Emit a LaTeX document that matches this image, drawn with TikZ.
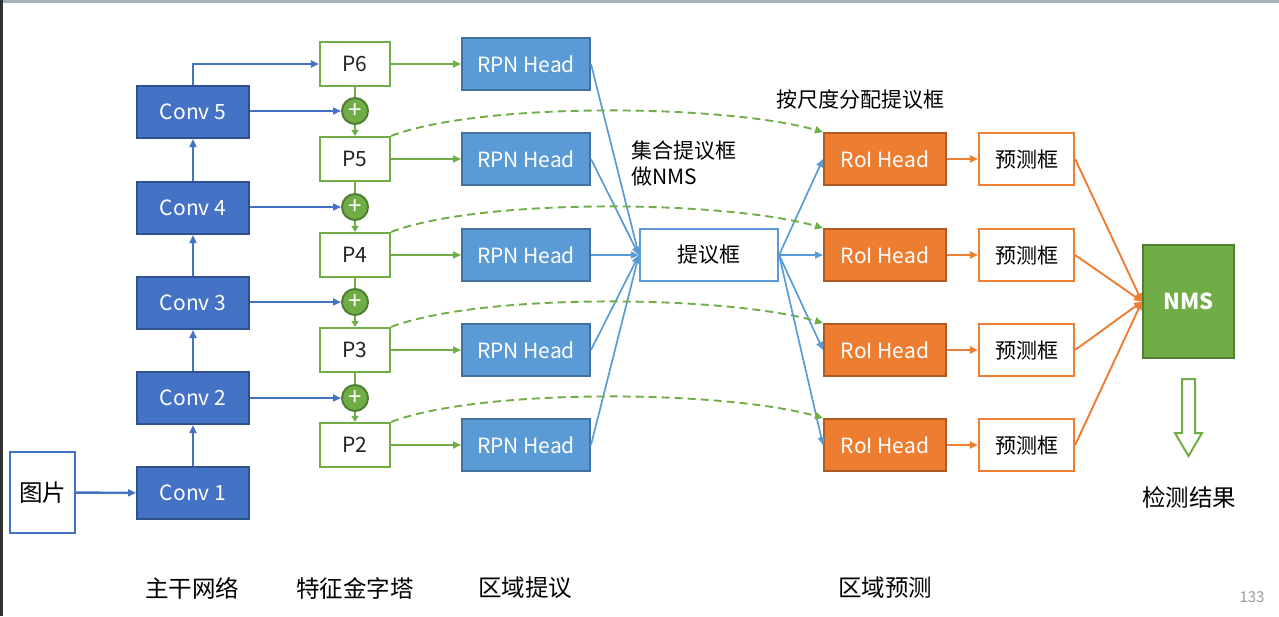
\documentclass[tikz,border=0pt]{standalone}
\usepackage{fontspec}
\setmainfont{Noto Sans CJK SC}
\usepackage{xcolor}
\usetikzlibrary{arrows.meta,positioning}

\definecolor{convblue}{HTML}{4472C4}
\definecolor{convline}{HTML}{2F528F}
\definecolor{rpnblue}{HTML}{5B9BD5}
\definecolor{rpnline}{HTML}{41719C}
\definecolor{fpngreen}{HTML}{70AD47}
\definecolor{fpnline}{HTML}{507E32}
\definecolor{roiorange}{HTML}{ED7D31}
\definecolor{roiline}{HTML}{AE5A21}
\definecolor{txtgray}{HTML}{222222}
\definecolor{edgegray}{HTML}{A9B0C0}

\newcommand{\boxfont}{\fontsize{21}{25}\selectfont}
\newcommand{\labfont}{\fontsize{23.5}{27}\selectfont}

\begin{document}
\begin{tikzpicture}[x=1pt,y=-1pt,
    tip/.style={-{Triangle[length=8pt,width=7pt]}},
    conv/.style={draw=convline, fill=convblue, text=white, line width=2pt, minimum width=112pt, minimum height=52pt, inner sep=0pt, font=\boxfont},
    fpn/.style={draw=fpngreen, fill=white, text=txtgray, line width=2.2pt, minimum width=70pt, minimum height=44pt, inner sep=0pt, font=\boxfont},
    plus/.style={circle, draw=fpnline, fill=fpngreen, text=white, line width=2pt, minimum size=26pt, inner sep=0pt, font=\fontsize{24}{24}\selectfont},
    rpn/.style={draw=rpnline, fill=rpnblue, text=white, line width=2pt, minimum width=128pt, minimum height=52pt, inner sep=0pt, font=\boxfont},
    roi/.style={draw=roiline, fill=roiorange, text=white, line width=2pt, minimum width=122pt, minimum height=52pt, inner sep=0pt, font=\boxfont},
    predbox/.style={draw=roiorange, fill=white, text=black, line width=2.2pt, minimum width=95pt, minimum height=52pt, inner sep=0pt, font=\boxfont},
    bluelink/.style={tip, draw=convblue, line width=2pt},
    greenlink/.style={tip, draw=fpngreen, line width=1.9pt},
    dashlink/.style={tip, draw=fpngreen, line width=1.9pt, dash pattern=on 8pt off 5pt},
    rpnlink/.style={tip, draw=rpnblue, line width=1.7pt},
    orangelink/.style={tip, draw=roiorange, line width=1.9pt},
    caption/.style={font=\labfont, text=black}]
\useasboundingbox (0,0) rectangle (1279,616);

% slide edges
\fill[edgegray] (0,0) rectangle (1279,2.5);
\fill[black!80] (0,0) rectangle (3,616);

% backbone
\node[draw=convblue, fill=white, line width=2.2pt, minimum width=65pt, minimum height=81pt, inner sep=0pt, font=\fontsize{23.5}{27}\selectfont] (img) at (42.5,492.5) {图片};
\node[conv] (c1) at (193,493) {Conv 1};
\node[conv] (c2) at (193,398) {Conv 2};
\node[conv] (c3) at (193,303) {Conv 3};
\node[conv] (c4) at (193,208) {Conv 4};
\node[conv] (c5) at (193,112) {Conv 5};

% feature pyramid
\node[fpn] (p6) at (355,64) {P6};
\node[fpn] (p5) at (355,159) {P5};
\node[fpn] (p4) at (355,255) {P4};
\node[fpn] (p3) at (355,350) {P3};
\node[fpn] (p2) at (355,445) {P2};
\node[plus] (s5) at (355,111) {+};
\node[plus] (s4) at (355,207) {+};
\node[plus] (s3) at (355,302) {+};
\node[plus] (s2) at (355,398) {+};

% region proposal
\node[rpn] (h6) at (526,64) {RPN Head};
\node[rpn] (h5) at (526,159) {RPN Head};
\node[rpn] (h4) at (526,255) {RPN Head};
\node[rpn] (h3) at (526,350) {RPN Head};
\node[rpn] (h2) at (526,445) {RPN Head};
\node[draw=rpnblue, fill=white, line width=2.2pt, minimum width=138pt, minimum height=52pt, inner sep=0pt, font=\boxfont] (prop) at (709,255) {提议框};

% region prediction
\node[roi] (r5) at (885,159) {RoI Head};
\node[roi] (r4) at (885,255) {RoI Head};
\node[roi] (r3) at (885,350) {RoI Head};
\node[roi] (r2) at (885,445) {RoI Head};
\node[predbox] (b5) at (1026.5,159) {预测框};
\node[predbox] (b4) at (1026.5,255) {预测框};
\node[predbox] (b3) at (1026.5,350) {预测框};
\node[predbox] (b2) at (1026.5,445) {预测框};
\node[draw=fpnline, fill=fpngreen, text=white, line width=2pt, minimum width=91pt, minimum height=113pt, inner sep=0pt, font=\fontsize{22}{24}\selectfont\bfseries] (nms) at (1188.5,301.5) {NMS};

% backbone links
\draw[bluelink, line width=2.4pt] (img) -- (c1);
\draw[bluelink, line width=2.4pt] (c1) -- (c2);
\draw[bluelink, line width=2.4pt] (c2) -- (c3);
\draw[bluelink, line width=2.4pt] (c3) -- (c4);
\draw[bluelink, line width=2.4pt] (c4) -- (c5);
\draw[bluelink] (c5.north) |- (p6.west);
\draw[bluelink] (c5.east |- s5) -- (s5.west);
\draw[bluelink] (c4.east |- s4) -- (s4.west);
\draw[bluelink] (c3.east |- s3) -- (s3.west);
\draw[bluelink] (c2.east |- s2) -- (s2.west);

% top-down path
\draw[fpngreen, line width=2.2pt] (p6) -- (s5);
\draw[fpngreen, line width=2.2pt] (p5) -- (s4);
\draw[fpngreen, line width=2.2pt] (p4) -- (s3);
\draw[fpngreen, line width=2.2pt] (p3) -- (s2);
\draw[greenlink, -{Triangle[length=6pt,width=7pt]}] (s5) -- (p5);
\draw[greenlink, -{Triangle[length=6pt,width=7pt]}] (s4) -- (p4);
\draw[greenlink, -{Triangle[length=6pt,width=7pt]}] (s3) -- (p3);
\draw[greenlink, -{Triangle[length=6pt,width=7pt]}] (s2) -- (p2);

% heads
\foreach \k in {6,5,4,3,2}
  \draw[greenlink] (p\k) -- (h\k);
\foreach \k in {6,5,4,3,2}
  \draw[rpnlink] (h\k.east) -- (prop.west);
\foreach \k in {5,4,3,2}{
  \draw[rpnlink] (prop.east) -- (r\k.west);
  \draw[dashlink] (p\k.north east) .. controls +(90,-34) and +(-100,-28) .. (r\k.north west);
  \draw[orangelink] (r\k) -- (b\k);
  \draw[orangelink] (b\k.east) -- (nms.west);
}

% result arrow
\begin{scope}[shift={(nms.south)}]
  \draw[fpngreen, fill=white, line width=2pt, line join=miter]
    (-6.5,20) -- (6.5,20) -- (6.5,74) -- (13.5,74) -- (0,97) -- (-13.5,74) -- (-6.5,74) -- cycle;
\end{scope}

% texts
\node[font=\fontsize{21}{26}\selectfont, align=left, anchor=west] (nmsnote) at (628,163) {集合提议框\\做NMS};
\node[font=\fontsize{21}{24}\selectfont] (assign) at (860,100) {按尺度分配提议框};
\node[caption] (res) at (1189,497) {检测结果};
\node[caption] (lab1) at (192,588) {主干网络};
\node[caption] (lab2) at (355,588) {特征金字塔};
\node[caption] (lab3) at (525,588) {区域提议};
\node[caption] (lab4) at (885,588) {区域预测};
\node[font=\fontsize{15}{18}\selectfont, text=black!40] (page) at (1252,597) {133};
\end{tikzpicture}
\end{document}
